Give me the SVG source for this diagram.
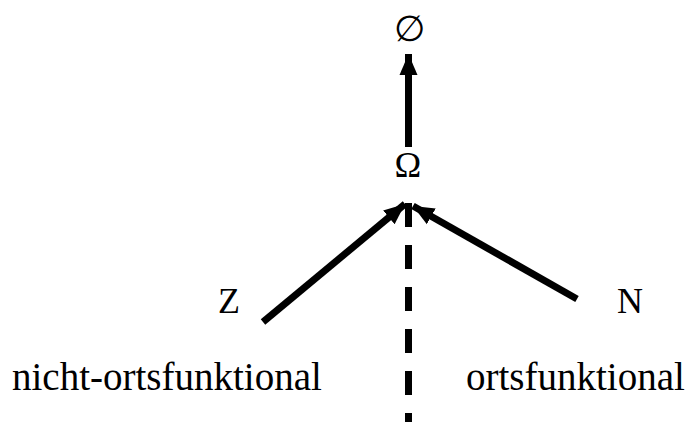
<svg xmlns="http://www.w3.org/2000/svg" width="692" height="422" viewBox="0 0 692 422">
<style>
.sym{font-family:"Liberation Serif","Times New Roman",serif;font-size:36px;fill:#000;text-anchor:middle}
.lab{font-family:"Liberation Serif","Times New Roman",serif;font-size:39px;fill:#000}
.edge{stroke:#000;stroke-width:7;fill:none}
.dash{stroke-dasharray:24 18}
</style>
<defs>
<marker id="ah" markerUnits="userSpaceOnUse" markerWidth="24" markerHeight="20" refX="21" refY="10" orient="auto" viewBox="0 0 24 20">
<path d="M0,1 L21,10 L0,19 Z" fill="#000"/>
</marker>
</defs>
<g id="connectors">
<line class="edge" x1="408.5" y1="147" x2="408.5" y2="54" marker-end="url(#ah)"/>
<line class="edge" x1="263" y1="322" x2="405" y2="204" marker-end="url(#ah)"/>
<line class="edge" x1="577" y1="299" x2="413" y2="206" marker-end="url(#ah)"/>
<line class="edge dash" x1="408.5" y1="203" x2="408.5" y2="422"/>
</g>
<g id="node-empty"><text class="sym" x="409" y="41">∅</text></g>
<g id="node-omega"><text class="sym" x="408" y="177">Ω</text></g>
<g id="node-Z"><text class="sym" x="229" y="313">Z</text></g>
<g id="node-N"><text class="sym" x="630" y="313">N</text></g>
<g id="label-left"><text class="lab" x="12" y="390">nicht-ortsfunktional</text></g>
<g id="label-right"><text class="lab" x="466" y="390">ortsfunktional</text></g>
</svg>
